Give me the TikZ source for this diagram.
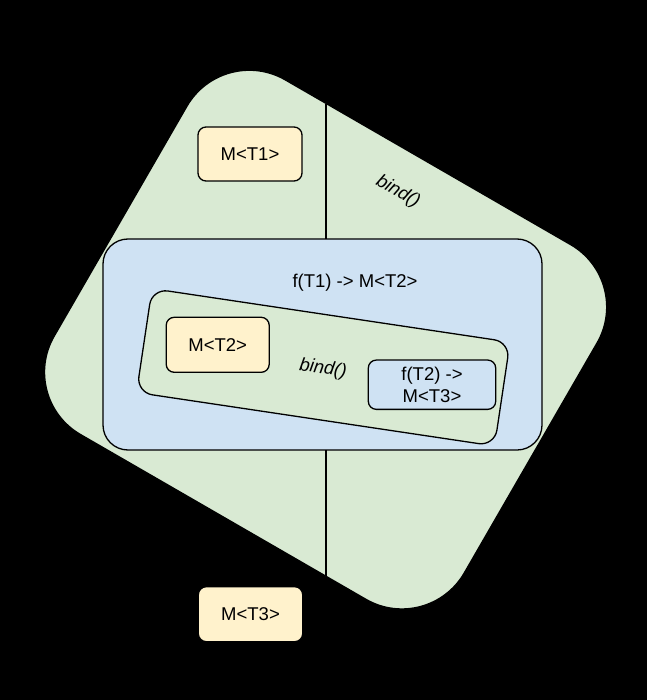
\documentclass[tikz,border=0pt]{standalone}
\usepackage{fontspec}
\setmainfont{Liberation Sans}
\definecolor{gfill}{HTML}{D9EAD3}
\definecolor{bfill}{HTML}{CFE2F3}
\definecolor{yfill}{HTML}{FFF2CC}
\tikzset{
  shapebox/.style={draw=black, line width=1.3pt, inner sep=0pt, outer sep=0pt},
  ybox/.style={shapebox, fill=yfill, rounded corners=8pt, minimum width=104pt, minimum height=54pt},
  lbl/.style={inner sep=0pt, font=\fontsize{18.5}{21.5}\selectfont, align=center},
  divider/.style={draw=black, line width=1.3pt}
}
\begin{document}
\begin{tikzpicture}[x=1pt, y=-1pt]
\fill[black] (0,0) rectangle (647,700);
\useasboundingbox (0,0) rectangle (647,700);
% outer rotated container
\node[shapebox, fill=gfill, rounded corners=72pt, minimum width=473.5pt, minimum height=409.5pt, rotate=-30] (outer) at (325.6,339.6) {};
% blue container
\node[shapebox, fill=bfill, rounded corners=25pt, minimum width=439pt, minimum height=211pt] (blue) at (322.5,344.5) {};
% dividers
\coordinate (vt) at (326,104.5);
\coordinate (vb) at (326,576.3);
\draw[divider] (vt) -- (vt |- blue.north);
\draw[divider] (vb |- blue.south) -- (vb);
% inner rotated container
\node[shapebox, fill=gfill, rounded corners=16pt, minimum width=362pt, minimum height=105pt, rotate=-8.5] (inner) at (323.3,367.3) {};
% boxes
\node[ybox, lbl] (mt1) at (250,154) {M<T1>};
\node[ybox, lbl, minimum width=103pt, minimum height=55pt] (mt2) at (217.7,344.8) {M<T2>};
\node[shapebox, lbl, fill=bfill, rounded corners=8pt, minimum width=127.4pt, minimum height=49.3pt] (ft2) at (432,384.7) {f(T2) ->\\M<T3>};
\node[ybox, lbl, minimum width=104.4pt, minimum height=55pt] (mt3) at (250.5,614.2) {M<T3>};
% labels
\node[lbl] (ft1) at (355,283) {f(T1) -> M<T2>};
\node[lbl, rotate=-30] (bind1) at (398,192) {\itshape bind()};
\node[lbl, rotate=-8.5] (bind2) at (323,369) {\itshape bind()};
\end{tikzpicture}
\end{document}
